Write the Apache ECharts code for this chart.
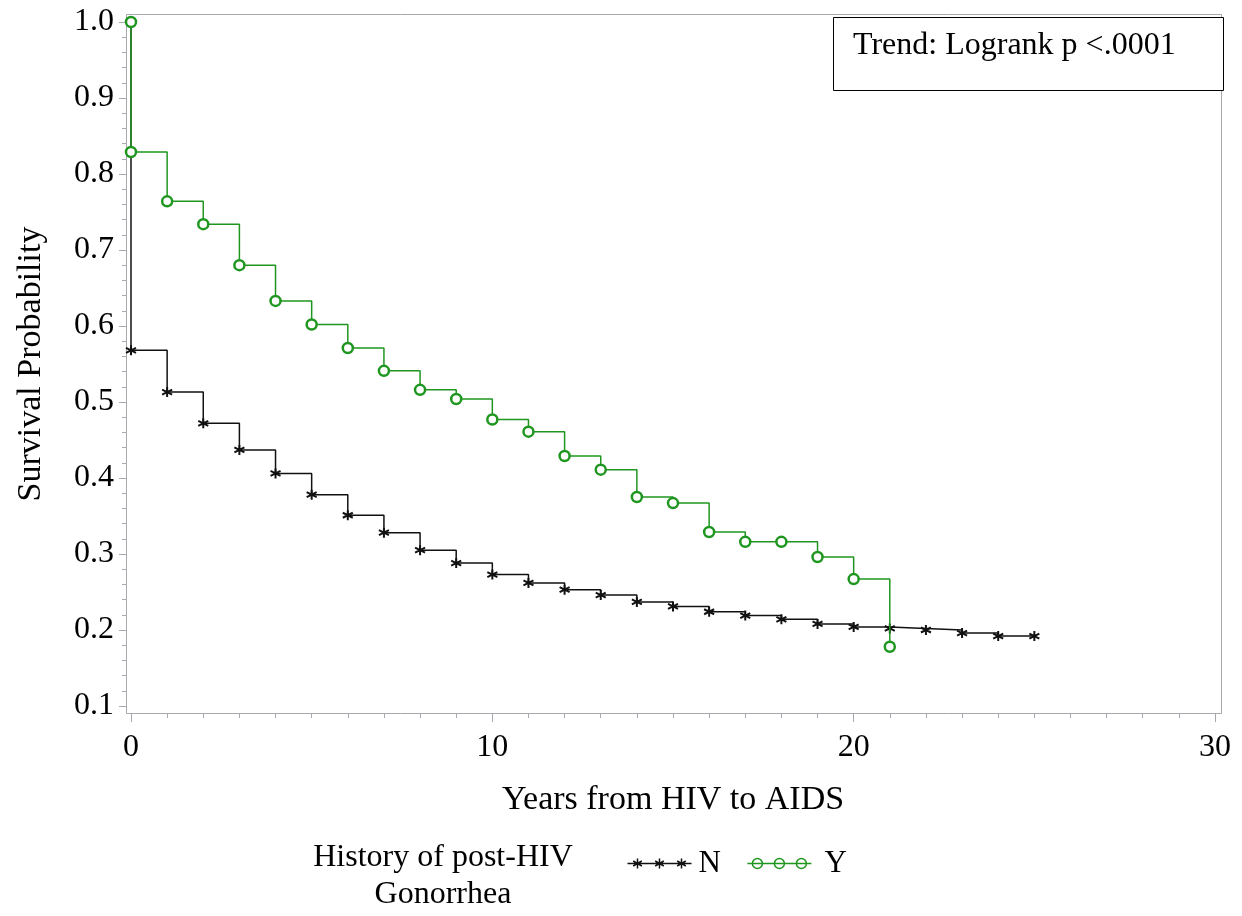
<!DOCTYPE html>
<html>
<head>
<meta charset="utf-8">
<script src="https://cdn.jsdelivr.net/npm/echarts@6/dist/echarts.min.js"></script>
<style>
  html, body { margin: 0; padding: 0; background: #fff; }
  #km { width: 1242px; height: 916px; }
</style>
</head>
<body>
<div id="km"></div>
<script>
// N group (no gonorrhea history)
var nTimes = [0, 0, 1, 2, 3, 4, 5, 6, 7, 8, 9, 10, 11, 12, 13, 14, 15, 16, 17, 18, 19, 20, 21, 22, 23, 24, 25];
var nSurv = [1.0, 0.568, 0.513, 0.472, 0.437, 0.406, 0.378, 0.351, 0.328, 0.305, 0.288, 0.273, 0.262, 0.253, 0.246, 0.237, 0.231, 0.224, 0.219, 0.214, 0.208, 0.204, 0.202, 0.200, 0.196, 0.192, 0.192];
// Y group
var yTimes = [0, 0, 1, 2, 3, 4, 5, 6, 7, 8, 9, 10, 11, 12, 13, 14, 15, 16, 17, 18, 19, 20, 21];
var ySurv = [1.0, 0.829, 0.764, 0.734, 0.680, 0.633, 0.602, 0.571, 0.541, 0.516, 0.504, 0.477, 0.461, 0.429, 0.411, 0.375, 0.367, 0.329, 0.316, 0.316, 0.296, 0.267, 0.178];

var xTicks = [0, 10, 20, 30];
var legendTitle = 'History of post-HIV\nGonorrhea';
var trendText = 'Trend: Logrank p <.0001';

var serif = 'Liberation Serif';
var axisGray = '#a6aaae';
var green = '#1f961f';

function pairs(t, s) {
    var out = [];
    for (var i = 0; i < t.length; i++) {
        out.push([t[i], s[i]]);
    }
    return out;
}

var chart = echarts.init(document.getElementById('km'));

var starPath = 'path://M5 0 L5 10 M0.7 2.5 L9.3 7.5 M0.7 7.5 L9.3 2.5';
var starLegend = 'path://M0 6 L64 6 M10 1 L10 11 M5.7 3.5 L14.3 8.5 M5.7 8.5 L14.3 3.5 M32 1 L32 11 M27.7 3.5 L36.3 8.5 M27.7 8.5 L36.3 3.5 M54 1 L54 11 M49.7 3.5 L58.3 8.5 M49.7 8.5 L58.3 3.5';
var circLegend = 'path://M0 6 L64 6 M5 6 A5 5 0 1 0 15 6 A5 5 0 1 0 5 6 M27 6 A5 5 0 1 0 37 6 A5 5 0 1 0 27 6 M49 6 A5 5 0 1 0 59 6 A5 5 0 1 0 49 6';

// hidden axes share the data scale
var hiddenX = { type: 'value', min: 0, max: 30, show: false };
var hiddenY = { type: 'value', min: 0.1, max: 1.0, show: false };

var option = {
    animation: false,
    backgroundColor: '#fff',
    title: {
        text: legendTitle,
        left: 443,
        top: 839,
        textAlign: 'center',
        padding: 0,
        textStyle: {
            fontFamily: serif,
            fontSize: 32,
            fontWeight: 'normal',
            color: '#000',
            lineHeight: 37,
            align: 'center'
        }
    },
    legend: {
        left: 620,
        top: 843,
        itemWidth: 64,
        itemHeight: 10,
        itemGap: 24,
        textStyle: { fontFamily: serif, fontSize: 31, color: '#000', padding: [0, 0, 0, 2] },
        data: [
            { name: 'N', icon: starLegend, itemStyle: { color: 'none', borderColor: '#111', borderWidth: 1.5 } },
            {
                name: 'Y', icon: circLegend,
                itemStyle: { color: 'none', borderColor: green, borderWidth: 1.5 },
                textStyle: { fontFamily: serif, fontSize: 31, color: '#000', padding: [0, 0, 0, 8] }
            }
        ]
    },
    // 0: data, 1: x ticks (pushed down), 2: y ticks (pushed left)
    grid: [
        { left: 131, right: 27, top: 22, bottom: 210 },
        { left: 131, right: 27, top: 22, bottom: 203 },
        { left: 126, right: 27, top: 22, bottom: 210 }
    ],
    xAxis: [
        Object.assign({ gridIndex: 0 }, hiddenX),
        {
            gridIndex: 1,
            type: 'value',
            min: 0,
            max: 30,
            interval: 10,
            name: 'Years from HIV to AIDS',
            nameLocation: 'middle',
            nameGap: 70,
            nameTextStyle: { fontFamily: serif, fontSize: 34, color: '#000' },
            axisLine: { show: false },
            axisTick: { show: true, inside: false, length: 9, lineStyle: { color: axisGray, width: 1 } },
            minorTick: { show: true, splitNumber: 10, length: 5, lineStyle: { color: axisGray, width: 1 } },
            splitLine: { show: false },
            axisLabel: {
                margin: 19,
                fontFamily: serif,
                fontSize: 32,
                color: '#000',
                formatter: function (v) { return xTicks.indexOf(v) >= 0 ? String(v) : ''; }
            }
        },
        Object.assign({ gridIndex: 2 }, hiddenX)
    ],
    yAxis: [
        Object.assign({ gridIndex: 0 }, hiddenY),
        Object.assign({ gridIndex: 1 }, hiddenY),
        {
            gridIndex: 2,
            type: 'value',
            min: 0.1,
            max: 1.0,
            interval: 0.1,
            name: 'Survival Probability',
            nameLocation: 'middle',
            nameGap: 78,
            nameTextStyle: { fontFamily: serif, fontSize: 34, color: '#000' },
            axisLine: { show: false },
            axisTick: { show: true, inside: false, length: 7, lineStyle: { color: axisGray, width: 1 } },
            minorTick: { show: true, splitNumber: 5, length: 4, lineStyle: { color: axisGray, width: 1 } },
            splitLine: { show: false },
            axisLabel: {
                margin: 12,
                fontFamily: serif,
                fontSize: 32,
                color: '#000',
                formatter: function (v) { return v.toFixed(1); }
            }
        }
    ],
    graphic: [
        // plot frame
        {
            type: 'rect',
            shape: { x: 126.5, y: 14.5, width: 1095, height: 699 },
            style: { fill: 'none', stroke: axisGray, lineWidth: 1 },
            silent: true
        },
        // logrank inset
        {
            type: 'rect',
            shape: { x: 833.5, y: 17.5, width: 390, height: 73 },
            style: { fill: '#fff', stroke: '#000', lineWidth: 1 },
            z: 10
        },
        {
            type: 'text',
            left: 853,
            top: 30,
            z: 11,
            style: { text: trendText, fontFamily: serif, fontSize: 32, fill: '#000' }
        }
    ],
    series: [
        {
            name: 'N',
            type: 'line',
            xAxisIndex: 0,
            yAxisIndex: 0,
            step: 'end',
            data: pairs(nTimes, nSurv),
            symbol: starPath,
            symbolSize: 10,
            showAllSymbol: true,
            lineStyle: { color: '#111', width: 1.5 },
            itemStyle: { color: '#111', borderColor: '#111', borderWidth: 2 },
            z: 2
        },
        {
            name: 'Y',
            type: 'line',
            xAxisIndex: 0,
            yAxisIndex: 0,
            step: 'end',
            data: pairs(yTimes, ySurv),
            symbol: 'circle',
            symbolSize: 10,
            showAllSymbol: true,
            lineStyle: { color: green, width: 1.5 },
            itemStyle: { color: '#fff', borderColor: green, borderWidth: 2.5 },
            z: 3
        }
    ]
};

chart.setOption(option);
</script>
</body>
</html>
